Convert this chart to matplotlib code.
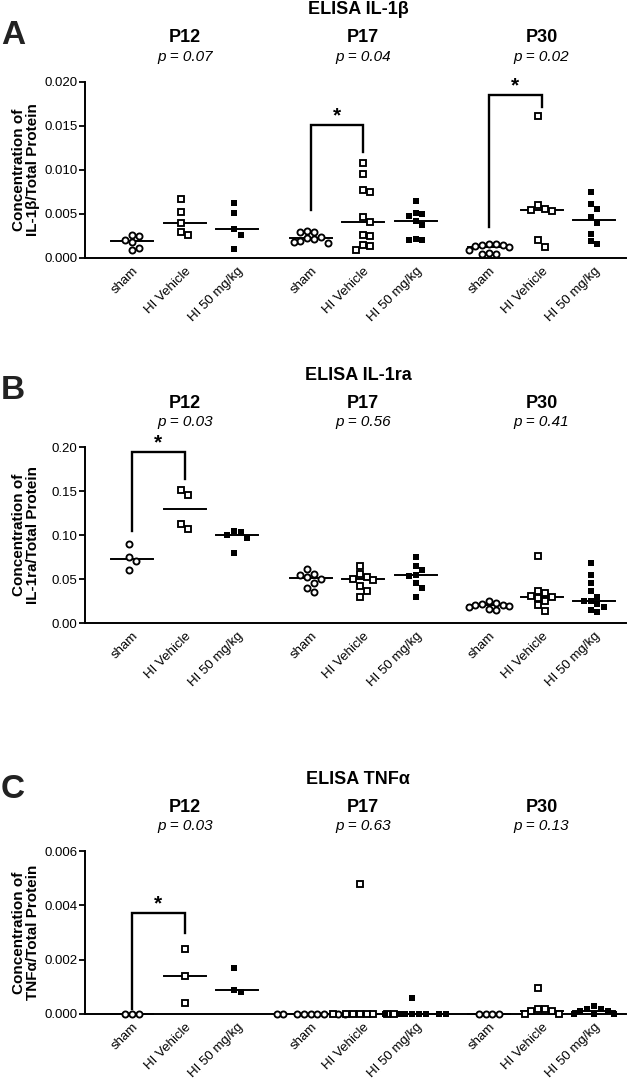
import numpy as np
import matplotlib.pyplot as plt

plt.rcParams['font.family'] = ['Liberation Sans', 'DejaVu Sans']

W, H = 628, 1079

ages = ['P12', 'P17', 'P30']
groups = ['sham', 'HI Vehicle', 'HI 50 mg/kg']
positions = [0, 1, 2, 3.4, 4.4, 5.4, 6.8, 7.8, 8.8]

# ELISA IL-1beta, one list per age (P12, P17, P30)
il1b_p = ['p = 0.07', 'p = 0.04', 'p = 0.02']
il1b_sham = [[0.0018, 0.0026, 0.0020, 0.0025, 0.0009, 0.0011],
             [0.0031, 0.0030, 0.0029, 0.0024, 0.0023, 0.0022, 0.0019, 0.0018, 0.0017],
             [0.0016, 0.0015, 0.0016, 0.0015, 0.0014, 0.0012, 0.0005, 0.0006, 0.0005, 0.0009]]
il1b_vehicle = [[0.0067, 0.0052, 0.0040, 0.0026, 0.0029],
                [0.0108, 0.0096, 0.0075, 0.0077, 0.0047, 0.0041, 0.0026, 0.0025, 0.0015, 0.0014, 0.0009],
                [0.0161, 0.0054, 0.0060, 0.0053, 0.0056, 0.0013, 0.0020]]
il1b_hi50 = [[0.0062, 0.0051, 0.0033, 0.0026, 0.0010],
             [0.0065, 0.0051, 0.0050, 0.0048, 0.0042, 0.0038, 0.0021, 0.0022, 0.0020],
             [0.0075, 0.0061, 0.0056, 0.0047, 0.0040, 0.0027, 0.0016, 0.0019]]
# (age index, bracket top, left leg end, right leg end)
il1b_sig = [(1, 0.0151, 0.0054, 0.0121), (2, 0.0185, 0.0035, 0.0172)]

# ELISA IL-1ra
il1ra_p = ['p = 0.03', 'p = 0.56', 'p = 0.41']
il1ra_sham = [[0.090, 0.075, 0.071, 0.060],
              [0.061, 0.056, 0.054, 0.052, 0.050, 0.046, 0.040, 0.035],
              [0.025, 0.023, 0.022, 0.021, 0.020, 0.019, 0.018, 0.016, 0.015]]
il1ra_vehicle = [[0.146, 0.151, 0.107, 0.112],
                 [0.065, 0.056, 0.052, 0.050, 0.049, 0.042, 0.036, 0.030],
                 [0.076, 0.036, 0.034, 0.031, 0.030, 0.028, 0.025, 0.020, 0.014]]
il1ra_hi50 = [[0.104, 0.100, 0.097, 0.103, 0.080],
              [0.075, 0.065, 0.060, 0.055, 0.053, 0.046, 0.040, 0.030],
              [0.068, 0.055, 0.045, 0.036, 0.030, 0.025, 0.025, 0.022, 0.018, 0.015, 0.013]]
il1ra_sig = [(0, 0.194, 0.105, 0.164)]

# ELISA TNF-alpha
tnfa_p = ['p = 0.03', 'p = 0.63', 'p = 0.13']
tnfa_sham = [[0, 0, 0],
             [0, 0, 0, 0, 0, 0, 0, 0, 0],
             [0, 0, 0, 0]]
tnfa_vehicle = [[0.0024, 0.0014, 0.0004],
                [0.0048, 0, 0, 0, 0, 0, 0, 0, 0],
                [0.00095, 0.0002, 0.0002, 0.0001, 0.0001, 0, 0]]
tnfa_hi50 = [[0.0017, 0.00088, 0.0008],
             [0.0006, 0, 0, 0, 0, 0, 0, 0, 0],
             [0.0003, 0.0002, 0.0002, 0.0001, 0.0001, 0, 0, 0]]
tnfa_sig = [(0, 0.0037, 0.0002, 0.0030)]

panels = [
    dict(letter='A', title='ELISA IL-1β', ylabel='Concentration of\nIL-1β/Total Protein',
         title_y=10, top=82, bottom=258, ymax=0.020, step=0.005, fmt='%.3f', letter_y=35,
         pvals=il1b_p, data=[il1b_sham, il1b_vehicle, il1b_hi50], sig=il1b_sig),
    dict(letter='B', title='ELISA IL-1ra', ylabel='Concentration of\nIL-1ra/Total Protein',
         title_y=375, top=447, bottom=623, ymax=0.20, step=0.05, fmt='%.2f', letter_y=390,
         pvals=il1ra_p, data=[il1ra_sham, il1ra_vehicle, il1ra_hi50], sig=il1ra_sig),
    dict(letter='C', title='ELISA TNFα', ylabel='Concentration of\nTNFα/Total Protein',
         title_y=779, top=851, bottom=1014, ymax=0.006, step=0.002, fmt='%.3f', letter_y=789,
         pvals=tnfa_p, data=[tnfa_sham, tnfa_vehicle, tnfa_hi50], sig=tnfa_sig),
]

styles = [dict(marker='o', mfc='white', mec='black', ms=4.4, mew=1.35),
          dict(marker='s', mfc='white', mec='black', ms=4.0, mew=1.35),
          dict(marker='s', mfc='black', mec='black', ms=4.6, mew=0)]

left_px, right_px = 85, 626
xlim = (-0.9, 9.41)
px_per_x = (right_px - left_px) / (xlim[1] - xlim[0])


def swarm(vals, px_per_y, d=6.8):
    # simple beeswarm: place points in order, shifting sideways on collision
    vals = np.asarray(vals, dtype=float)
    ys = vals * px_per_y
    order = np.argsort(-vals, kind='stable')
    placed = []
    offs = np.zeros(len(vals))
    cands = [0]
    for k in range(1, 12):
        cands += [k * d, -k * d]
    for i in order:
        for c in cands:
            if all((c - px) ** 2 + (ys[i] - py) ** 2 >= d ** 2 for px, py in placed):
                break
        placed.append((c, ys[i]))
        offs[i] = c
    if len(offs):
        offs -= (offs.max() + offs.min()) / 2
    return offs / px_per_x


fig = plt.figure(figsize=(W / 100, H / 100), dpi=100)

for p in panels:
    ax = fig.add_axes([left_px / W, 1 - p['bottom'] / H,
                       (right_px - left_px) / W, (p['bottom'] - p['top']) / H])
    ax.set_xlim(*xlim)
    ax.set_ylim(0, p['ymax'])
    px_per_y = (p['bottom'] - p['top']) / p['ymax']

    for a in range(3):
        for g in range(3):
            vals = p['data'][g][a]
            x0 = positions[a * 3 + g]
            xs = x0 + swarm(vals, px_per_y)
            ax.plot(xs, vals, linestyle='none', clip_on=False, zorder=3, **styles[g])
            med = np.median(vals)
            ax.plot([x0 - 0.4, x0 + 0.4], [med, med], color='black', lw=1.4,
                    clip_on=False, zorder=2)

    for a, top, lleg, rleg in p['sig']:
        xl, xr = positions[a * 3], positions[a * 3 + 1]
        ax.plot([xl, xl, xr, xr], [lleg, top, top, rleg], color='black', lw=1.7,
                clip_on=False, solid_joinstyle='miter')
        ax.text((xl + xr) / 2, top, '*', ha='center', va='bottom', fontsize=15,
                fontweight='bold')

    ax.spines['top'].set_visible(False)
    ax.spines['right'].set_visible(False)
    for s in ['left', 'bottom']:
        ax.spines[s].set_linewidth(1.4)
    ticks = np.arange(0, p['ymax'] + p['step'] / 2, p['step'])
    ax.set_yticks(ticks)
    ax.set_yticklabels([p['fmt'] % t for t in ticks], fontsize=9.5)
    ax.tick_params(axis='y', length=4, width=1.3, pad=1.5)
    ax.set_xticks(positions)
    ax.set_xticklabels(groups * 3, rotation=45, ha='right', rotation_mode='anchor',
                       fontsize=9.5)
    ax.tick_params(axis='x', length=0, pad=5)

    fig.text(26 / W, 1 - (p['top'] + p['bottom']) / 2 / H, p['ylabel'], rotation=90,
             ha='center', va='center', fontsize=11, fontweight='bold', linespacing=1.0)
    fig.text(358 / W, 1 - p['title_y'] / H, p['title'], ha='center', va='center',
             fontsize=13, fontweight='bold')
    fig.text(13 / W, 1 - p['letter_y'] / H, p['letter'], ha='center', va='center',
             fontsize=24, fontweight='bold', color='#222222')
    for a in range(3):
        cx = left_px + (positions[a * 3 + 1] - xlim[0]) * px_per_x
        fig.text(cx / W, 1 - (p['title_y'] + 28) / H, ages[a], ha='center', va='center',
                 fontsize=13, fontweight='bold')
        fig.text(cx / W, 1 - (p['title_y'] + 47) / H, p['pvals'][a], ha='center',
                 va='center', fontsize=11, style='italic')

fig.savefig('out.png', dpi=100)
